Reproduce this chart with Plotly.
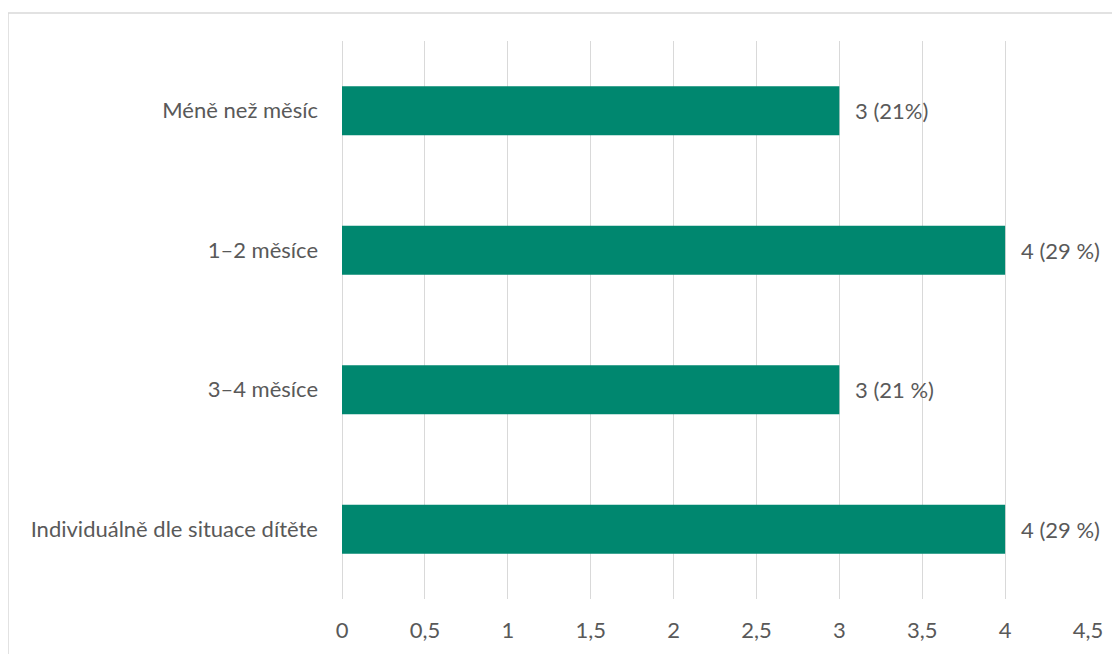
import plotly.graph_objects as go

categories = ["Méně než měsíc", "1–2 měsíce", "3–4 měsíce", "Individuálně dle situace dítěte"]
values = [3, 4, 3, 4]
labels = ["3 (21%)", "4 (29 %)", "3 (21 %)", "4 (29 %)"]
x_ticks = [0, 0.5, 1, 1.5, 2, 2.5, 3, 3.5, 4, 4.5]
x_ticktext = ["0", "0,5", "1", "1,5", "2", "2,5", "3", "3,5", "4", "4,5"]

BAR = "#00876f"
TXT = "#595959"
FONT = "Lato"
FS = 22

fig = go.Figure()
fig.add_trace(go.Bar(
    x=values, y=categories, orientation="h",
    marker=dict(color=BAR, line=dict(width=0)),
    width=0.35, hoverinfo="x+y",
))

for c, v, t in zip(categories, values, labels):
    fig.add_annotation(x=v, y=c, text=t, xanchor="left", yanchor="middle",
                       xshift=14, showarrow=False,
                       font=dict(family=FONT, size=FS, color=TXT))

# page body has an 8px offset; compensate in margins
OFF = 8
W, H = 1120, 654
L, R, T, B = 342 - OFF, 1120 - 1088 + OFF, 41 - OFF, 654 - 599 + OFF
pw = W - L - R
ph = H - T - B
fig.add_shape(type="rect", xref="paper", yref="paper",
              x0=(8 - OFF - L) / pw, x1=(W + 20 - L) / pw,
              y0=-(B + 20) / ph, y1=1 + (T - (13 - OFF)) / ph,
              line=dict(color="#d9d9d9", width=1.5), fillcolor="rgba(0,0,0,0)", layer="below")

fig.update_layout(
    width=W, height=H,
    margin=dict(l=L, r=R, t=T, b=B),
    paper_bgcolor="white", plot_bgcolor="white",
    showlegend=False,
    font=dict(family=FONT, size=FS, color=TXT),
    xaxis=dict(range=[0, 4.5], tickvals=x_ticks, ticktext=x_ticktext,
               showgrid=True, gridcolor="#d9d9d9", gridwidth=1,
               zeroline=True, zerolinecolor="#d9d9d9", zerolinewidth=1,
               showline=False, ticks="", ticklabelstandoff=16,
               tickfont=dict(family=FONT, size=FS, color=TXT)),
    yaxis=dict(autorange="reversed", showgrid=False, zeroline=False, showline=False,
               ticks="", ticklabelstandoff=23,
               tickfont=dict(family=FONT, size=FS, color=TXT)),
    bargap=0.65,
)

fig.write_html("out.html")
